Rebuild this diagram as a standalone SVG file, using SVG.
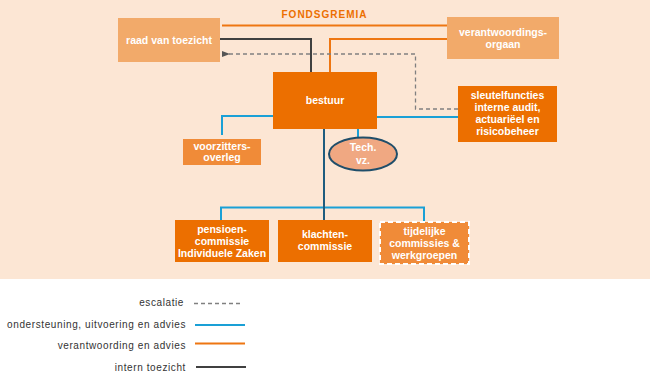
<svg xmlns="http://www.w3.org/2000/svg" width="650" height="382" viewBox="0 0 650 382">
<defs>
<style>
.t{font-family:"Liberation Sans",Arial,sans-serif;font-weight:bold;fill:#fff;font-size:10.5px;text-anchor:middle}
.lg{font-family:"Liberation Sans",Arial,sans-serif;fill:#333;font-size:10px;text-anchor:end;letter-spacing:0.6px}
.or{stroke:#EE7612;stroke-width:2;fill:none}
.bl{stroke:#1AA0D6;stroke-width:2;fill:none}
.dk{stroke:#404040;stroke-width:2;fill:none}
.tl{stroke:#1F5C7E;stroke-width:2;fill:none}
.ds{stroke:#808080;stroke-width:1.3;stroke-dasharray:4,3;fill:none}
.light{fill:#F2AA6A}
.dark{fill:#EC6F00}
.mid{fill:#F08B38}
</style>
<marker id="ah" markerWidth="8" markerHeight="8" refX="1" refY="4" orient="auto" markerUnits="userSpaceOnUse">
<path d="M8,1 L0,4 L8,7 Z" fill="#555"/>
</marker>
</defs>
<rect x="0" y="0" width="650" height="279" fill="#FCE6D4"/>
<text x="324.5" y="18" font-family="'Liberation Sans',Arial,sans-serif" font-weight="bold" font-size="10" fill="#EC6F00" text-anchor="middle" letter-spacing="1">FONDSGREMIA</text>

<g id="connectors">
<path class="or" d="M222,25.5 L447,25.5"/>
<path class="or" d="M447,39 L330,39 L330,72"/>
<path class="dk" d="M220,39 L311,39 L311,72"/>
<path class="ds" d="M458,109 L415.5,109 L415.5,54 L229,54" marker-end="url(#ah)"/>
<path class="bl" d="M377,117 L458,117"/>
<path class="bl" d="M273,116 L222,116 L222,135"/>
<path class="bl" d="M358,129 L358,137"/>
<path class="bl" d="M221,220 L221,207.5 L424,207.5 L424,221"/>
<path class="tl" d="M324,129 L324,220"/>
</g>

<g id="raad"><rect class="light" x="118" y="18" width="102" height="44"/><text class="t" x="169" y="44">raad van toezicht</text></g>
<g id="verantwoordingsorgaan"><rect class="light" x="447" y="17" width="112" height="42"/><text class="t" x="503" y="36">verantwoordings-</text><text class="t" x="503" y="48">orgaan</text></g>
<g id="bestuur"><rect class="dark" x="273" y="72" width="104" height="57"/><text class="t" x="325" y="104">bestuur</text></g>
<g id="sleutelfuncties"><rect class="dark" x="458" y="86" width="99" height="56"/><text class="t" x="507.5" y="99">sleutelfuncties</text><text class="t" x="507.5" y="111">interne audit,</text><text class="t" x="507.5" y="123">actuariëel en</text><text class="t" x="507.5" y="135">risicobeheer</text></g>
<g id="voorzitters"><rect class="mid" x="183" y="139" width="78" height="26"/><text class="t" x="222" y="150">voorzitters-</text><text class="t" x="222" y="161">overleg</text></g>
<g id="tech"><ellipse cx="363" cy="154" rx="34" ry="16.5" fill="#F0A882" stroke="#1F4E6A" stroke-width="2"/><text class="t" x="363" y="151">Tech.</text><text class="t" x="363" y="164">vz.</text></g>
<g id="pensioen"><rect class="dark" x="175" y="220" width="94" height="42"/><text class="t" x="222" y="233">pensioen-</text><text class="t" x="222" y="245">commissie</text><text class="t" x="222" y="257">Individuele Zaken</text></g>
<g id="klachten"><rect class="dark" x="278" y="220" width="94" height="42"/><text class="t" x="325" y="238">klachten-</text><text class="t" x="325" y="250">commissie</text></g>
<g id="tijdelijk"><rect class="mid" x="380" y="222" width="89" height="42" stroke="#fff" stroke-width="2" stroke-dasharray="5,3"/><text class="t" x="424.5" y="235">tijdelijke</text><text class="t" x="424.5" y="247">commissies &amp;</text><text class="t" x="424.5" y="259">werkgroepen</text></g>

<g id="legend">
<text class="lg" x="184" y="306">escalatie</text>
<path class="ds" d="M194,303.5 L240,303.5" stroke="#999"/>
<text class="lg" x="186" y="328">ondersteuning, uitvoering en advies</text>
<path class="bl" d="M195,325 L245,325"/>
<text class="lg" x="186" y="349">verantwoording en advies</text>
<path class="or" d="M195,343.5 L245,343.5"/>
<text class="lg" x="186" y="371">intern toezicht</text>
<path class="dk" d="M196,367 L246,367" stroke="#555"/>
</g>
</svg>
